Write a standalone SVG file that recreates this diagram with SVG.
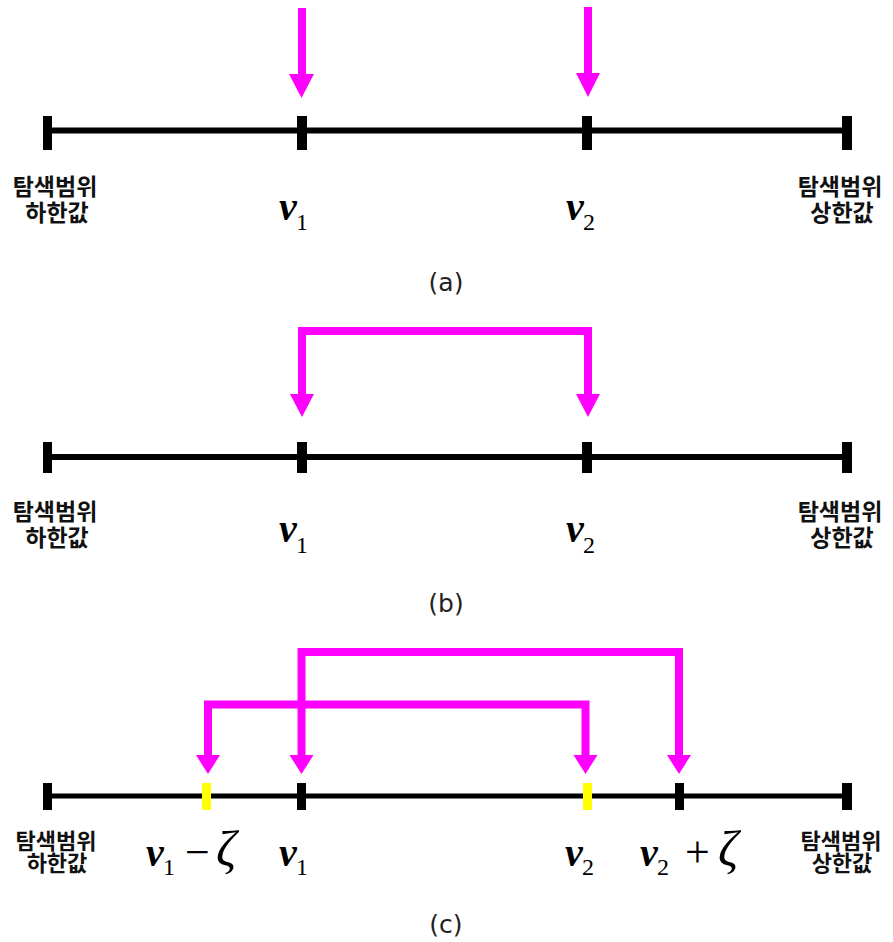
<svg xmlns="http://www.w3.org/2000/svg" width="893" height="942" viewBox="0 0 893 942">
<style>
.axis{stroke:#000;stroke-width:6;fill:none}
.tick{fill:#000}
.ytick{fill:#FFFF00}
.arr{stroke:#FF00FF;stroke-width:8;fill:none;stroke-linejoin:miter}
.head{fill:#FF00FF}
.kr{font-family:"Noto Sans CJK KR","Noto Sans",sans-serif;font-weight:bold;font-size:23px;text-anchor:middle;fill:#111}
.krs{font-size:22px}
.v{font-family:"Liberation Serif","Times New Roman",serif;font-weight:bold;font-style:italic;font-size:40px;fill:#000}
.sub{font-family:"Liberation Serif","Times New Roman",serif;font-weight:normal;font-style:normal;font-size:24px;fill:#000}
.op{font-family:"Liberation Serif","Times New Roman",serif;font-weight:normal;font-style:normal;font-size:44px;fill:#000}
.z{font-family:"Liberation Serif","Times New Roman",serif;font-weight:normal;font-style:italic;font-size:50px;fill:#000}
.cap{font-family:"DejaVu Sans",sans-serif;font-size:25px;text-anchor:middle;fill:#222}
</style>

<!-- Panel (a) -->
<g id="panel-a">
  <g id="a-axis">
    <line class="axis" x1="47" y1="130.5" x2="847" y2="130.5"/>
    <rect class="tick" x="43" y="116" width="9" height="34"/>
    <rect class="tick" x="297" y="116" width="10" height="34"/>
    <rect class="tick" x="582" y="116" width="10" height="34"/>
    <rect class="tick" x="842" y="116" width="10" height="34"/>
  </g>
  <g id="a-lower"><text class="kr"><tspan x="55" y="195">탐색범위</tspan><tspan x="57" dy="26">하한값</tspan></text></g>
  <g id="a-upper"><text class="kr"><tspan x="840" y="195">탐색범위</tspan><tspan x="842" dy="26">상한값</tspan></text></g>
  <g id="a-v1"><text class="v" x="279" y="220">v<tspan class="sub" x="296" y="230">1</tspan></text></g>
  <g id="a-v2"><text class="v" x="566" y="220">v<tspan class="sub" x="583" y="230">2</tspan></text></g>
  <text class="cap" x="446" y="291">(a)</text>
</g>

<!-- Panel (b) -->
<g id="panel-b">
  <g id="b-axis">
    <line class="axis" x1="47" y1="457" x2="847" y2="457"/>
    <rect class="tick" x="43" y="442" width="9" height="31"/>
    <rect class="tick" x="297" y="442" width="10" height="31"/>
    <rect class="tick" x="582" y="442" width="10" height="31"/>
    <rect class="tick" x="842" y="442" width="10" height="31"/>
  </g>
  <g id="b-lower"><text class="kr"><tspan x="55" y="520">탐색범위</tspan><tspan x="57" dy="26">하한값</tspan></text></g>
  <g id="b-upper"><text class="kr"><tspan x="840" y="520">탐색범위</tspan><tspan x="842" dy="26">상한값</tspan></text></g>
  <g id="b-v1"><text class="v" x="279" y="542">v<tspan class="sub" x="296" y="553">1</tspan></text></g>
  <g id="b-v2"><text class="v" x="566" y="542">v<tspan class="sub" x="583" y="553">2</tspan></text></g>
  <text class="cap" x="446" y="612">(b)</text>
</g>

<!-- Panel (c) -->
<g id="panel-c">
  <g id="c-axis">
    <line class="axis" x1="47" y1="796" x2="847" y2="796" style="stroke-width:5"/>
    <rect class="tick" x="43" y="783" width="9" height="27"/>
    <rect class="ytick" x="202" y="783" width="9" height="27"/>
    <rect class="tick" x="297" y="783" width="9" height="27"/>
    <rect class="ytick" x="583" y="783" width="9" height="27"/>
    <rect class="tick" x="675" y="783" width="9" height="27"/>
    <rect class="tick" x="842" y="783" width="10" height="27"/>
  </g>
  <g id="c-lower"><text class="kr krs"><tspan x="56" y="849">탐색범위</tspan><tspan x="57" dy="22">하한값</tspan></text></g>
  <g id="c-upper"><text class="kr krs"><tspan x="841" y="849">탐색범위</tspan><tspan x="842" dy="22">상한값</tspan></text></g>
  <g id="c-v1mz"><text class="v" x="146" y="866">v<tspan class="sub" x="163" y="875">1</tspan><tspan class="op" x="185" y="867">−</tspan><tspan class="z" x="216" y="866">ζ</tspan></text></g>
  <g id="c-v1"><text class="v" x="279" y="866">v<tspan class="sub" x="296" y="875">1</tspan></text></g>
  <g id="c-v2"><text class="v" x="565" y="866">v<tspan class="sub" x="582" y="875">2</tspan></text></g>
  <g id="c-v2pz"><text class="v" x="640" y="866">v<tspan class="sub" x="657" y="875">2</tspan><tspan class="op" x="685" y="867">+</tspan><tspan class="z" x="718" y="866">ζ</tspan></text></g>
  <text class="cap" x="446" y="933">(c)</text>
</g>

<!-- Connectors -->
<g id="connectors">
  <line class="arr" x1="302" y1="8" x2="302" y2="76"/>
  <polygon class="head" points="289,74 314,74 301.5,98"/>
  <line class="arr" x1="588" y1="7" x2="588" y2="75"/>
  <polygon class="head" points="576,73 600,73 588,97"/>

  <path class="arr" d="M302,396 V331 H588 V396"/>
  <polygon class="head" points="290,394 314,394 302,417"/>
  <polygon class="head" points="576,394 600,394 588,417"/>

  <path class="arr" d="M301.5,757 V652 H679 V757"/>
  <polygon class="head" points="289.5,755 313.5,755 301.5,774"/>
  <polygon class="head" points="667,755 691,755 679,774"/>
  <path class="arr" d="M208,757 V704.5 H585.5 V757"/>
  <polygon class="head" points="196,755 220,755 208,774"/>
  <polygon class="head" points="573.5,755 597.5,755 585.5,774"/>
</g>
</svg>
